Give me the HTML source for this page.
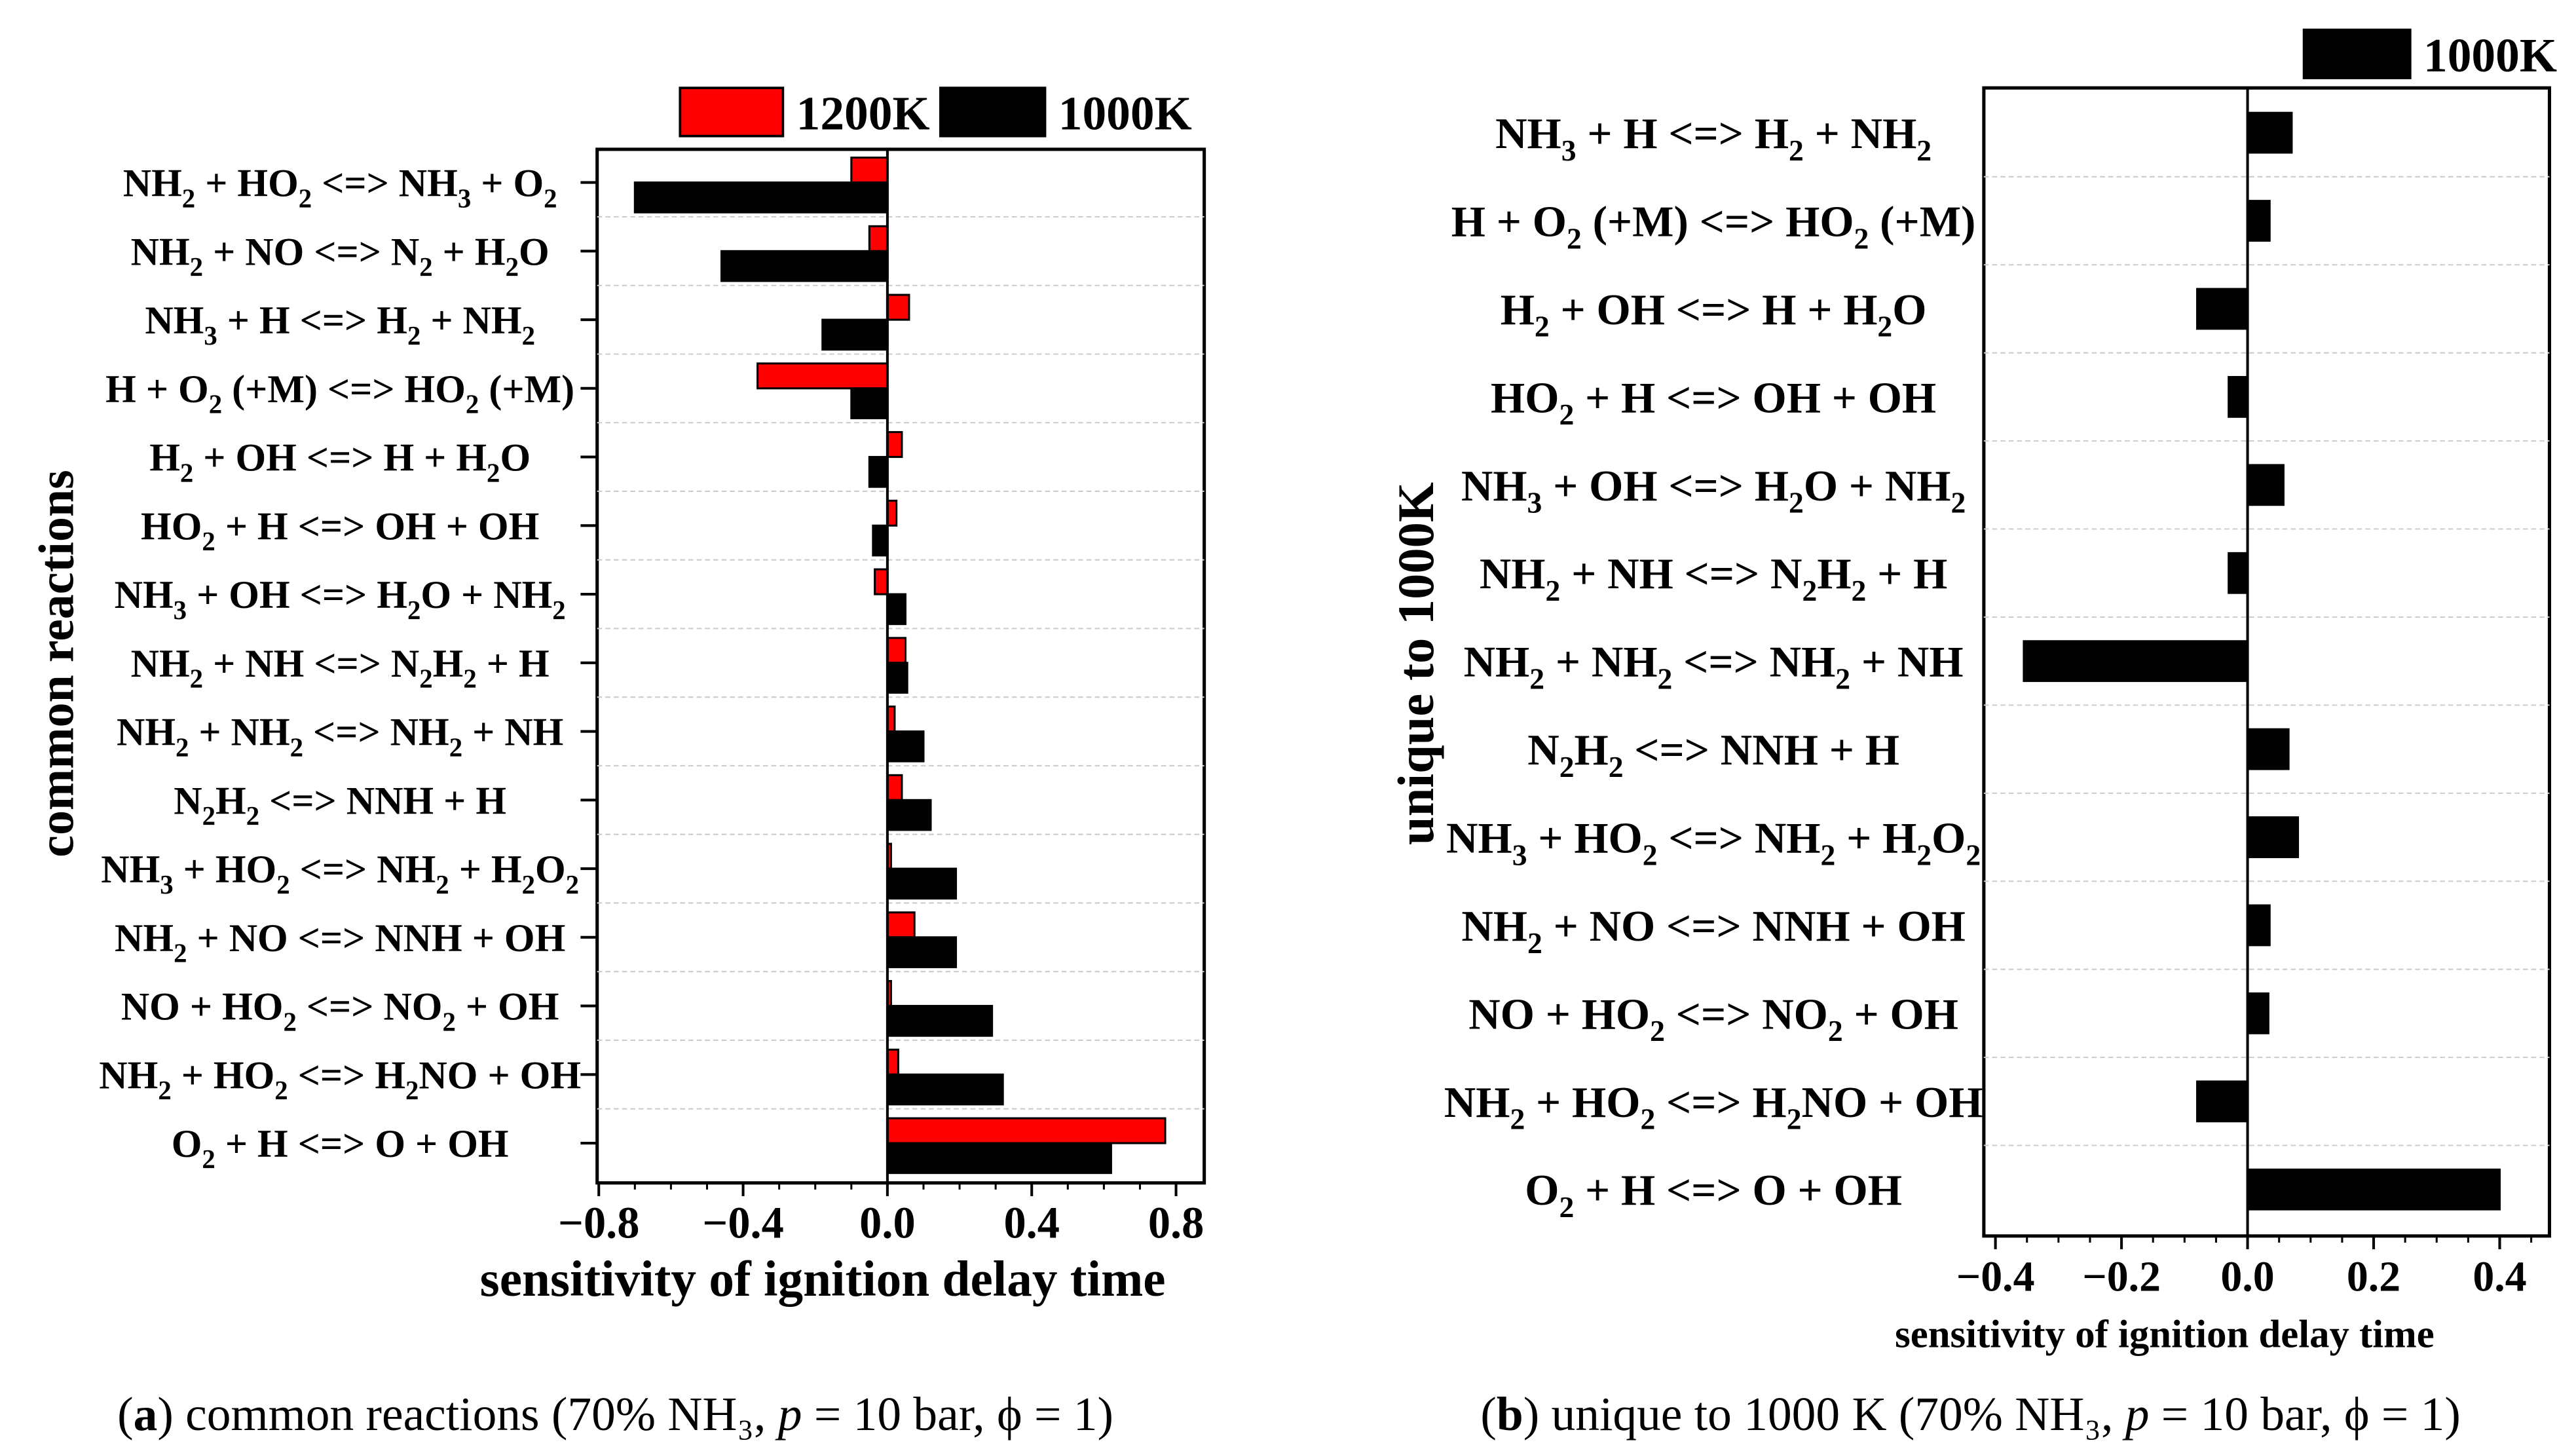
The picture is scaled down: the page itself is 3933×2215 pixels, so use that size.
<!DOCTYPE html>
<html><head><meta charset="utf-8"><style>
html,body{margin:0;padding:0;background:#fff;}
svg{display:block;}
text{font-family:"Liberation Serif","DejaVu Serif",serif;}
</style></head><body>
<svg id="fig" xmlns="http://www.w3.org/2000/svg" width="3933" height="2215" viewBox="0 0 1553 874.6" preserveAspectRatio="none">
<rect width="1553" height="874.6" fill="#fff"/>
<g id="chartA"></g>
<g id="chartB"></g>
<text x="371" y="862" text-anchor="middle" font-size="29">(<tspan font-weight="bold">a</tspan>) common reactions (70% NH₃, <tspan font-style="italic">p</tspan> = 10 bar, ϕ = 1)</text>
<text x="1188" y="862" text-anchor="middle" font-size="29">(<tspan font-weight="bold">b</tspan>) unique to 1000 K (70% NH₃, <tspan font-style="italic">p</tspan> = 10 bar, ϕ = 1)</text>
</svg>
<script>
const categoriesA = ["NH_2 + HO_2 <=> NH_3 + O_2","NH_2 + NO <=> N_2 + H_2O","NH_3 + H <=> H_2 + NH_2","H + O_2 (+M) <=> HO_2 (+M)","H_2 + OH <=> H + H_2O","HO_2 + H <=> OH + OH","NH_3 + OH <=> H_2O + NH_2","NH_2 + NH <=> N_2H_2 + H","NH_2 + NH_2 <=> NH_2 + NH","N_2H_2 <=> NNH + H","NH_3 + HO_2 <=> NH_2 + H_2O_2","NH_2 + NO <=> NNH + OH","NO + HO_2 <=> NO_2 + OH","NH_2 + HO_2 <=> H_2NO + OH","O_2 + H <=> O + OH"];
const values1200A = [-0.10,-0.05,0.06,-0.36,0.04,0.025,-0.035,0.05,0.02,0.04,0.01,0.075,0.01,0.03,0.77];
const values1000A = [-0.70,-0.46,-0.18,-0.10,-0.05,-0.04,0.05,0.055,0.10,0.12,0.19,0.19,0.29,0.32,0.62];
const ticksA = [-0.8,-0.4,0.0,0.4,0.8];
const categoriesB = ["NH_3 + H <=> H_2 + NH_2","H + O_2 (+M) <=> HO_2 (+M)","H_2 + OH <=> H + H_2O","HO_2 + H <=> OH + OH","NH_3 + OH <=> H_2O + NH_2","NH_2 + NH <=> N_2H_2 + H","NH_2 + NH_2 <=> NH_2 + NH","N_2H_2 <=> NNH + H","NH_3 + HO_2 <=> NH_2 + H_2O_2","NH_2 + NO <=> NNH + OH","NO + HO_2 <=> NO_2 + OH","NH_2 + HO_2 <=> H_2NO + OH","O_2 + H <=> O + OH"];
const values1000B = [0.07,0.035,-0.08,-0.03,0.057,-0.03,-0.355,0.065,0.08,0.035,0.033,-0.08,0.40];
const ticksB = [-0.4,-0.2,0.0,0.2,0.4];

const NS="http://www.w3.org/2000/svg";
function el(tag,attrs,parent){const e=document.createElementNS(NS,tag);for(const k in attrs)e.setAttribute(k,attrs[k]);parent.appendChild(e);return e;}
function label(parent,str,x,y,fs){
  const t=el('text',{x:x,y:y,'text-anchor':'middle','font-size':fs,'font-weight':'bold'},parent);
  const parts=str.split(/(_\d)/);
  let sub=false;
  parts.forEach(p=>{if(!p)return;
    if(p[0]==='_'){const s=el('tspan',{'font-size':fs*0.68,dy:fs*0.28},t);s.textContent=p.slice(1);sub=true;}
    else{const s=el('tspan',sub?{dy:-fs*0.28}:{},t);s.textContent=p;sub=false;}
  });
  return t;
}
function fmt(v){return (v<0?'\u2212':'')+Math.abs(v).toFixed(1);}

function drawChart(g,o){
  const x=v=>o.x0+v*o.k;
  const y=i=>o.yTop+o.step*i;
  const box=el('rect',{x:o.L,y:o.T,width:o.R-o.L,height:o.B-o.T,fill:'none',stroke:'#000','stroke-width':2},g);
  
  
  for(let i=0;i<o.cats.length-1;i++){
    const gy=(y(i)+y(i+1))/2;
    const gl=el('line',{x1:o.L,x2:o.R,y1:gy,y2:gy,stroke:'#ccc','stroke-width':0.8,'stroke-dasharray':'3,2'},g);
    
    
  }
  o.series.forEach((s,si)=>{
    s.vals.forEach((v,i)=>{
      const yy=y(i)+s.off;
      const b=el('rect',{x:Math.min(x(0),x(v)),y:yy,width:Math.abs(x(v)-x(0)),height:s.h,fill:s.color,stroke:'#000','stroke-width':1.2},g);
      
      
    });
  });
  el('line',{x1:x(0),x2:x(0),y1:o.T,y2:o.B,stroke:'#000','stroke-width':1.6},g);
  o.cats.forEach((c,i)=>{
    const t=label(g,c,o.labelX,y(i)+o.fs*0.35,o.fs);
    
    
    if(o.yticks) el('line',{x1:o.L-10,x2:o.L,y1:y(i),y2:y(i),stroke:'#000','stroke-width':1.6},g);
  });
  const minor=o.ticks[1]-o.ticks[0];
  for(let v=o.ticks[0]-minor;v<=o.ticks[o.ticks.length-1]+minor+1e-9;v+=minor/4){
    const xx=x(v); if(xx<o.L-0.5||xx>o.R+0.5)continue;
    el('line',{x1:xx,x2:xx,y1:o.B,y2:o.B+4,stroke:'#000','stroke-width':1.2},g);
  }
  o.ticks.forEach(v=>{
    el('line',{x1:x(v),x2:x(v),y1:o.B,y2:o.B+8,stroke:'#000','stroke-width':1.6},g);
    const t=el('text',{x:x(v),y:o.B+o.tickDy,'text-anchor':'middle','font-size':o.tfs,'font-weight':'bold'},g);
    t.textContent=fmt(v);
    
    
  });
  const xt=el('text',{x:o.xtX,y:o.xtY,'text-anchor':'middle','font-size':o.xtfs,'font-weight':'bold'},g);
  xt.textContent='sensitivity of ignition delay time';
  
  
  const yt=el('text',{x:0,y:0,'text-anchor':'middle','font-size':o.ytfs,'font-weight':'bold',transform:'translate('+o.ytX+','+o.ytY+') rotate(-90)'},g);
  yt.textContent=o.ytitle;
  
  
  o.legend.forEach(l=>{
    const r=el('rect',{x:l.x,y:l.y,width:l.w,height:l.h,fill:l.color,stroke:'#000','stroke-width':1.5},g);
    
    
    const t=el('text',{x:l.x+l.w+8,y:l.y+l.h-4,'font-size':l.fs,'font-weight':'bold'},g);
    t.textContent=l.text;
    
    
  });
}

drawChart(document.getElementById('chartA'),{
  L:360,R:726,T:90,B:713,x0:535,k:217.5,yTop:110,step:41.36,
  cats:categoriesA,ticks:ticksA,labelX:205,fs:23.7,yticks:true,
  series:[{name:'1200K',vals:values1200A,color:'#ff0000',off:-15,h:15},{name:'1000K',vals:values1000A,color:'#000',off:0,h:18}],
  tfs:27,tickDy:33,xtX:496,xtY:781,xtfs:30.5,ytX:44,ytY:400,ytfs:30,ytitle:'common reactions',
  legend:[{x:410,y:53,w:62,h:29,color:'#ff0000',text:'1200K',fs:29},{x:567,y:53,w:63,h:29,color:'#000',text:'1000K',fs:29}]
});
drawChart(document.getElementById('chartB'),{
  L:1196,R:1537,T:53,B:745,x0:1355,k:380,yTop:80,step:53.08,
  cats:categoriesB,ticks:ticksB,labelX:1033,fs:26.5,yticks:false,
  series:[{name:'1000K',vals:values1000B,color:'#000',off:-12,h:24}],
  tfs:26,tickDy:33,xtX:1305,xtY:812,xtfs:24,ytX:864,ytY:400,ytfs:31,ytitle:'unique to 1000K',
  legend:[{x:1389,y:18,w:64,h:29,color:'#000',text:'1000K',fs:29}]
});
</script>
</body></html>
